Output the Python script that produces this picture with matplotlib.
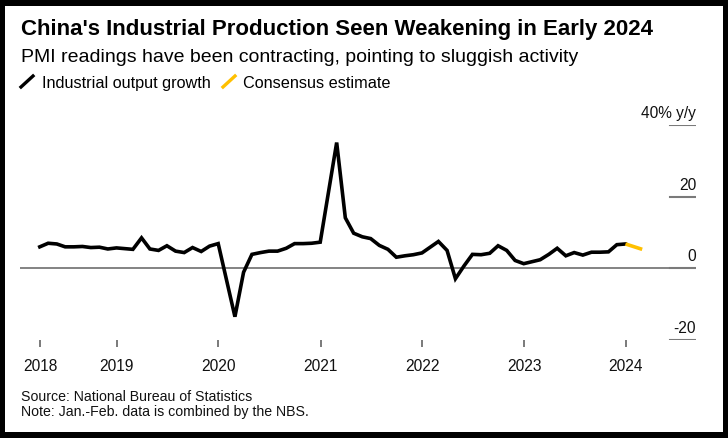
import matplotlib
matplotlib.use("Agg")
import matplotlib.pyplot as plt
from matplotlib.patches import Rectangle
from matplotlib.lines import Line2D
import pandas as pd
import datetime as dt

plt.rcParams['font.family'] = ['Liberation Sans', 'DejaVu Sans']

# monthly industrial output growth, % y/y (Jan-Feb combined, shown at Feb)
months = ["2018-03", "2018-04", "2018-05", "2018-06", "2018-07", "2018-08", "2018-09",
          "2018-10", "2018-11", "2018-12",
          "2019-02", "2019-03", "2019-04", "2019-05", "2019-06", "2019-07", "2019-08",
          "2019-09", "2019-10", "2019-11", "2019-12",
          "2020-02", "2020-03", "2020-04", "2020-05", "2020-06", "2020-07", "2020-08",
          "2020-09", "2020-10", "2020-11", "2020-12",
          "2021-02", "2021-03", "2021-04", "2021-05", "2021-06", "2021-07", "2021-08",
          "2021-09", "2021-10", "2021-11", "2021-12",
          "2022-02", "2022-03", "2022-04", "2022-05", "2022-06", "2022-07", "2022-08",
          "2022-09", "2022-10", "2022-11", "2022-12",
          "2023-02", "2023-03", "2023-04", "2023-05", "2023-06", "2023-07", "2023-08",
          "2023-09", "2023-10", "2023-11", "2023-12"]
output_growth = [6.0, 7.0, 6.8, 6.0, 6.0, 6.1, 5.8, 5.9, 5.4, 5.7,
                 5.3, 8.5, 5.4, 5.0, 6.3, 4.8, 4.4, 5.8, 4.7, 6.2, 6.9,
                 -13.5, -1.1, 3.9, 4.4, 4.8, 4.8, 5.6, 6.9, 6.9, 7.0, 7.3,
                 35.1, 14.1, 9.8, 8.8, 8.3, 6.4, 5.3, 3.1, 3.5, 3.8, 4.3,
                 7.5, 5.0, -2.9, 0.7, 3.9, 3.8, 4.2, 6.3, 5.0, 2.2, 1.3,
                 2.4, 3.9, 5.6, 3.5, 4.4, 3.7, 4.5, 4.5, 4.6, 6.6, 6.8]

consensus_months = ["2023-12", "2024-02"]
consensus = [6.8, 5.3]

yticks = [40, 20, 0, -20]
ytick_labels = ["40% y/y", "20", "0", "-20"]
xtick_dates = [dt.datetime(2018, 4, 1)] + [dt.datetime(y, 1, 1) for y in range(2019, 2025)]
xtick_labels = ["2018", "2019", "2020", "2021", "2022", "2023", "2024"]

dates = pd.to_datetime(months) + pd.offsets.MonthEnd(0)
cdates = pd.to_datetime(consensus_months) + pd.offsets.MonthEnd(0)

W, H = 728, 438
fig = plt.figure(figsize=(W / 100, H / 100), dpi=100)
fig.patch.set_facecolor("black")
fig.patches.append(Rectangle((5 / W, 1 - 432 / H), 718 / W, 426 / H,
                             transform=fig.transFigure, facecolor="white",
                             edgecolor="none", zorder=-5))

ax = fig.add_axes([20 / W, 1 - 340 / H, 676 / W, 215 / H])
ax.set_facecolor("none")

ax.plot(dates, output_growth, color="black", lw=2.6, solid_joinstyle="miter", zorder=3)
ax.plot(cdates, consensus, color="#ffc000", lw=2.6, solid_capstyle="butt", zorder=3)

ax.set_ylim(-20, 40)
ax.set_xlim(dt.datetime(2018, 1, 19), dt.datetime(2024, 9, 9))

ax.axhline(0, color="#7a7a7a", lw=1.3, zorder=1)
gx0 = 650 / 676
for v, lab in zip(yticks, ytick_labels):
    ax.axhline(v, xmin=gx0, xmax=1, color="#7a7a7a", lw=1.5, zorder=1)
    ax.annotate(lab, xy=(1, v), xycoords=("axes fraction", "data"),
                xytext=(0, 7), textcoords="offset pixels",
                ha="right", va="baseline", fontsize=11.2, color="#111111")

for s in ax.spines.values():
    s.set_visible(False)
ax.set_yticks([])
ax.set_xticks(xtick_dates)
ax.set_xticklabels(xtick_labels)
ax.tick_params(axis="x", length=5, width=1.4, color="#7a7a7a", pad=9,
               labelsize=11.2, labelcolor="#111111")

fig.text(21 / W, 1 - 35.5 / H, "China's Industrial Production Seen Weakening in Early 2024",
         fontsize=16.0, fontweight="bold", va="baseline", color="black")
fig.text(21 / W, 1 - 62 / H, "PMI readings have been contracting, pointing to sluggish activity",
         fontsize=14.0, va="baseline", color="black")

fig.lines.append(Line2D([21 / W, 33 / W], [1 - 87 / H, 1 - 76 / H], color="black",
                        lw=2.4, transform=fig.transFigure))
fig.text(41.5 / W, 1 - 88.3 / H, "Industrial output growth", fontsize=11.7,
         va="baseline", color="black")
fig.lines.append(Line2D([223 / W, 235 / W], [1 - 87 / H, 1 - 76 / H], color="#ffc000",
                        lw=2.4, transform=fig.transFigure))
fig.text(243.3 / W, 1 - 88.3 / H, "Consensus estimate", fontsize=11.7,
         va="baseline", color="black")

fig.text(21 / W, 1 - 401 / H, "Source: National Bureau of Statistics", fontsize=10.2,
         va="baseline", color="#111111")
fig.text(21 / W, 1 - 416 / H, "Note: Jan.-Feb. data is combined by the NBS.", fontsize=10.2,
         va="baseline", color="#111111")

fig.savefig("out.png", dpi=100, facecolor=fig.get_facecolor())
